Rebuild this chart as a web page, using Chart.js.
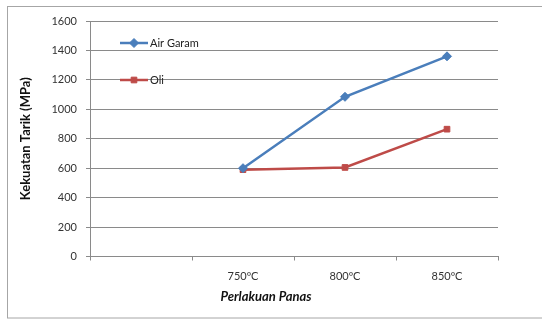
<!DOCTYPE html>
<html>
<head>
<meta charset="utf-8">
<script src="https://cdn.jsdelivr.net/npm/chart.js@4/dist/chart.umd.min.js"></script>
<style>
  html, body { margin: 0; padding: 0; background: #fff; }
  #wrap { width: 542px; height: 320px; }
</style>
</head>
<body>
<div id="wrap"><canvas id="c" width="542" height="320"></canvas></div>
<script>
// Heat treatment temperatures (first slot left empty on the axis)
const categories = ['', '750ºC', '800ºC', '850ºC'];
// Tensile strength (MPa) per quench medium
const airGaram = [null, 600, 1085, 1360];
const oli = [null, 590, 605, 865];
// Y axis range
const yTicks = [0, 200, 400, 600, 800, 1000, 1200, 1400, 1600];

const FONT = 'Lato, "Liberation Sans", sans-serif';
const GRID = '#8a8a8a';

// Frame around the whole figure
const framePlugin = {
  id: 'frame',
  beforeDraw(chart) {
    const ctx = chart.ctx;
    ctx.save();
    ctx.fillStyle = '#fff';
    ctx.fillRect(0, 0, chart.width, chart.height);
    ctx.strokeStyle = '#a6a6a6';
    ctx.lineWidth = 1;
    ctx.strokeRect(7.5, 6.5, chart.width, 311.5);
    ctx.restore();
  }
};

// Legend drawn inside the plot area, top-left
const innerLegend = {
  id: 'innerLegend',
  afterDatasetsDraw(chart) {
    const ctx = chart.ctx;
    const area = chart.chartArea;
    const x0 = area.left + 30, x1 = area.left + 58;
    const rows = [area.top + 22, area.top + 59];
    chart.data.datasets.forEach((ds, i) => {
      const y = rows[i];
      ctx.save();
      ctx.strokeStyle = ds.borderColor;
      ctx.lineWidth = ds.borderWidth;
      ctx.beginPath();
      ctx.moveTo(x0, y);
      ctx.lineTo(x1, y);
      ctx.stroke();
      ctx.fillStyle = ds.backgroundColor;
      ctx.strokeStyle = ds.borderColor;
      ctx.lineWidth = 1;
      Chart.helpers.drawPoint(ctx, {
        pointStyle: ds.pointStyle,
        radius: ds.pointRadius,
        rotation: 0,
        borderWidth: 1
      }, (x0 + x1) / 2, y);
      ctx.fillStyle = '#222';
      ctx.font = '11px ' + FONT;
      ctx.textBaseline = 'middle';
      ctx.textAlign = 'left';
      ctx.fillText(ds.label, x1 + 2, y);
      ctx.restore();
    });
  }
};

// X axis caption
const xCaption = {
  id: 'xCaption',
  afterDraw(chart) {
    const ctx = chart.ctx;
    ctx.save();
    ctx.fillStyle = '#111';
    ctx.font = 'italic bold 13px ' + FONT;
    ctx.textAlign = 'center';
    ctx.textBaseline = 'middle';
    ctx.fillText('Perlakuan Panas', 266, 297);
    ctx.restore();
  }
};

new Chart(document.getElementById('c'), {
  type: 'line',
  data: {
    labels: categories,
    datasets: [
      {
        label: 'Air Garam',
        data: airGaram,
        borderColor: '#4a7ebb',
        backgroundColor: '#4a7ebb',
        borderWidth: 2.5,
        pointStyle: 'rectRot',
        pointRadius: 4.5,
        pointBorderWidth: 1,
        tension: 0
      },
      {
        label: 'Oli',
        data: oli,
        borderColor: '#be4b48',
        backgroundColor: '#be4b48',
        borderWidth: 2.5,
        pointStyle: 'rect',
        pointRadius: 4,
        pointBorderWidth: 1,
        tension: 0
      }
    ]
  },
  options: {
    responsive: false,
    animation: false,
    layout: { padding: { left: 0, right: 44, top: 21, bottom: 0 } },
    plugins: {
      legend: { display: false },
      tooltip: { enabled: false }
    },
    scales: {
      x: {
        offset: true,
        grid: {
          offset: true,
          drawOnChartArea: false,
          drawTicks: true,
          tickLength: 4,
          color: GRID
        },
        border: { display: true, color: GRID, width: 1 },
        ticks: {
          padding: 9,
          color: '#333',
          font: { family: FONT, size: 11 },
          maxRotation: 0
        },
        afterFit(s) { s.height = 63.5; }
      },
      y: {
        min: yTicks[0],
        max: yTicks[yTicks.length - 1],
        afterBuildTicks(s) { s.ticks = yTicks.map(v => ({ value: v })); },
        grid: {
          color: GRID,
          tickLength: 4,
          drawTicks: true
        },
        border: { display: true, color: GRID, width: 1 },
        ticks: {
          padding: 9,
          color: '#333',
          font: { family: FONT, size: 11 },
          callback: v => String(v)
        },
        title: {
          display: true,
          text: 'Kekuatan Tarik (MPa)',
          color: '#111',
          font: { family: FONT, size: 13, weight: 'bold' },
          padding: { top: 18, bottom: 0 }
        },
        afterFit(s) { s.width = 90; }
      }
    }
  },
  plugins: [framePlugin, innerLegend, xCaption]
});
</script>
</body>
</html>
